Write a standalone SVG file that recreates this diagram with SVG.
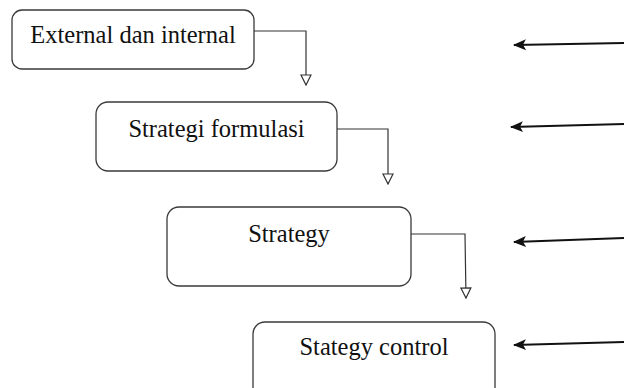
<svg xmlns="http://www.w3.org/2000/svg" width="624" height="388" viewBox="0 0 624 388">
<style>
.box{fill:#fff;stroke:#3a3a3a;stroke-width:1.3}
.lbl{font-family:"Liberation Serif","Times New Roman",serif;font-size:24.5px;fill:#111;text-anchor:middle}
.conn{fill:none;stroke:#333;stroke-width:1.2}
.side{fill:none;stroke:#111;stroke-width:2.2}
</style>
<defs>
<marker id="open" viewBox="0 0 12 12" refX="11" refY="6" markerWidth="12" markerHeight="12" markerUnits="userSpaceOnUse" orient="auto">
<path d="M1,1 L11,6 L1,11 Z" fill="#fff" stroke="#333" stroke-width="1.2"/>
</marker>
<marker id="solid" viewBox="0 0 13 11" refX="12" refY="5.5" markerWidth="13" markerHeight="11" markerUnits="userSpaceOnUse" orient="auto">
<path d="M0,0 L13,5.5 L0,11 L3,5.5 Z" fill="#111"/>
</marker>
</defs>
<rect width="624" height="388" fill="#fff"/>
<g id="n1"><rect class="box" x="12" y="10" width="242" height="59" rx="10"/><text class="lbl" x="133" y="43">External dan internal</text></g>
<g id="n2"><rect class="box" x="96" y="102" width="241" height="69" rx="12"/><text class="lbl" x="216.5" y="137">Strategi formulasi</text></g>
<g id="n3"><rect class="box" x="167" y="207" width="244" height="79" rx="12"/><text class="lbl" x="289" y="242">Strategy</text></g>
<g id="n4"><rect class="box" x="253" y="322" width="242" height="80" rx="12"/><text class="lbl" x="374" y="355">Stategy control</text></g>
<g id="connectors">
<path class="conn" d="M254,31 H306 V85" marker-end="url(#open)"/>
<path class="conn" d="M337,129 H388 V184" marker-end="url(#open)"/>
<path class="conn" d="M411,234 H465 L466,298" marker-end="url(#open)"/>
<path class="side" d="M624,43 L514,45" marker-end="url(#solid)"/>
<path class="side" d="M624,124 L511,127" marker-end="url(#solid)"/>
<path class="side" d="M624,238 L514,242" marker-end="url(#solid)"/>
<path class="side" d="M624,342 L514,345" marker-end="url(#solid)"/>
</g>
</svg>
